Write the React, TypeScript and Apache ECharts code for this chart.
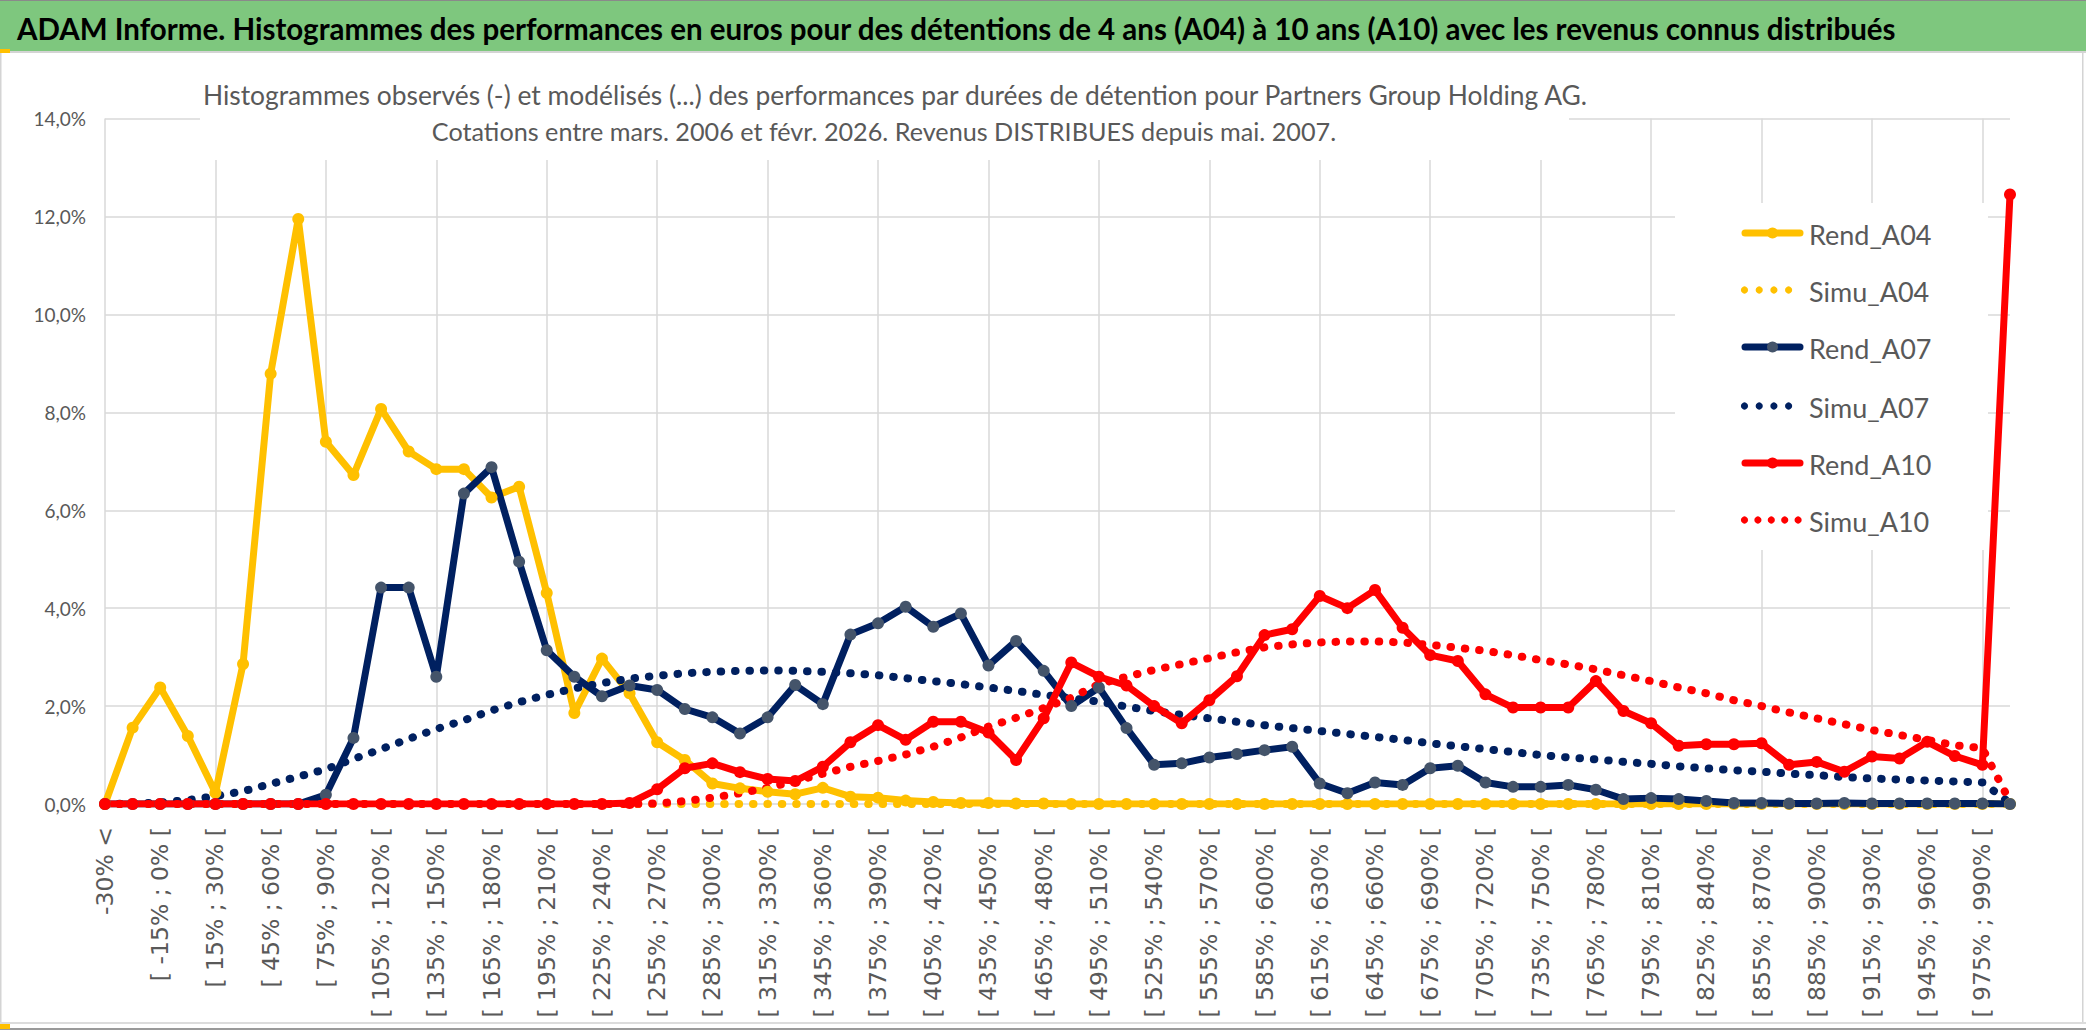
import React, { useEffect, useRef } from "react";
import * as echarts from "echarts";

const categories = [
  "-30% <", "[ -30% ; -15% [", "[ -15% ; 0% [", "[ 0% ; 15% [", "[ 15% ; 30% [", "[ 30% ; 45% [", "[ 45% ; 60% [", "[ 60% ; 75% [",
  "[ 75% ; 90% [", "[ 90% ; 105% [", "[ 105% ; 120% [", "[ 120% ; 135% [", "[ 135% ; 150% [", "[ 150% ; 165% [", "[ 165% ; 180% [",
  "[ 180% ; 195% [", "[ 195% ; 210% [", "[ 210% ; 225% [", "[ 225% ; 240% [", "[ 240% ; 255% [", "[ 255% ; 270% [", "[ 270% ; 285% [",
  "[ 285% ; 300% [", "[ 300% ; 315% [", "[ 315% ; 330% [", "[ 330% ; 345% [", "[ 345% ; 360% [", "[ 360% ; 375% [", "[ 375% ; 390% [",
  "[ 390% ; 405% [", "[ 405% ; 420% [", "[ 420% ; 435% [", "[ 435% ; 450% [", "[ 450% ; 465% [", "[ 465% ; 480% [", "[ 480% ; 495% [",
  "[ 495% ; 510% [", "[ 510% ; 525% [", "[ 525% ; 540% [", "[ 540% ; 555% [", "[ 555% ; 570% [", "[ 570% ; 585% [", "[ 585% ; 600% [",
  "[ 600% ; 615% [", "[ 615% ; 630% [", "[ 630% ; 645% [", "[ 645% ; 660% [", "[ 660% ; 675% [", "[ 675% ; 690% [", "[ 690% ; 705% [",
  "[ 705% ; 720% [", "[ 720% ; 735% [", "[ 735% ; 750% [", "[ 750% ; 765% [", "[ 765% ; 780% [", "[ 780% ; 795% [", "[ 795% ; 810% [",
  "[ 810% ; 825% [", "[ 825% ; 840% [", "[ 840% ; 855% [", "[ 855% ; 870% [", "[ 870% ; 885% [", "[ 885% ; 900% [", "[ 900% ; 915% [",
  "[ 915% ; 930% [", "[ 930% ; 945% [", "[ 945% ; 960% [", "[ 960% ; 975% [", "[ 975% ; 990% [", "990% <=",
];

const rendA04 = [
  0, 1.56, 2.38, 1.39, 0.23, 2.86, 8.79, 11.95, 7.4, 6.72, 8.07, 7.2, 6.84, 6.84, 6.26, 6.48, 4.31, 1.86, 2.97, 2.26,
  1.26, 0.9, 0.42, 0.32, 0.25, 0.2, 0.33, 0.15, 0.13, 0.07, 0.04, 0.02, 0.02, 0.01, 0.01, 0, 0, 0, 0, 0,
  0, 0, 0, 0, 0, 0, 0, 0, 0, 0, 0, 0, 0, 0, 0, 0, 0, 0, 0, 0,
  0, 0, 0, 0, 0, 0, 0, 0, 0, 0,
];

const simuA04 = [
  0, 0, 0, 0, 0, 0, 0, 0, 0, 0, 0, 0, 0, 0, 0, 0, 0, 0, 0, 0,
  0, 0, 0, 0, 0, 0, 0, 0, 0, 0, 0, 0, 0, 0, 0, 0, 0, 0, 0, 0,
  0, 0, 0, 0, 0, 0, 0, 0, 0, 0, 0, 0, 0, 0, 0, 0, 0, 0, 0, 0,
  0, 0, 0, 0, 0, 0, 0, 0, 0, 0,
];

const rendA07 = [
  0, 0, 0, 0, 0, 0, 0, 0, 0.19, 1.35, 4.42, 4.42, 2.6, 6.34, 6.88, 4.95, 3.14, 2.6, 2.2, 2.42,
  2.33, 1.94, 1.77, 1.44, 1.77, 2.43, 2.04, 3.46, 3.69, 4.03, 3.62, 3.89, 2.83, 3.33, 2.72, 2.0, 2.38, 1.55, 0.8, 0.83,
  0.95, 1.02, 1.1, 1.17, 0.42, 0.22, 0.44, 0.39, 0.73, 0.78, 0.44, 0.35, 0.35, 0.39, 0.29, 0.1, 0.12, 0.1, 0.06, 0.02,
  0.02, 0.01, 0.01, 0.02, 0.01, 0.01, 0.01, 0.01, 0.01, 0,
];

const simuA07 = [
  0, 0.01, 0.03, 0.08, 0.16, 0.26, 0.41, 0.56, 0.71, 0.92, 1.12, 1.33, 1.53, 1.71, 1.91, 2.08, 2.23, 2.36, 2.47, 2.56,
  2.62, 2.67, 2.7, 2.72, 2.73, 2.72, 2.7, 2.67, 2.63, 2.57, 2.51, 2.45, 2.38, 2.31, 2.23, 2.16, 2.09, 1.99, 1.9, 1.82,
  1.75, 1.68, 1.61, 1.55, 1.49, 1.43, 1.37, 1.31, 1.24, 1.18, 1.12, 1.06, 1.0, 0.95, 0.91, 0.86, 0.82, 0.77, 0.73, 0.69,
  0.66, 0.62, 0.59, 0.55, 0.52, 0.5, 0.48, 0.46, 0.44, 0.02,
];

const rendA10 = [
  0, 0, 0, 0, 0, 0, 0, 0, 0, 0, 0, 0, 0, 0, 0, 0, 0, 0, 0, 0.02,
  0.3, 0.73, 0.83, 0.65, 0.51, 0.47, 0.76, 1.26, 1.61, 1.31, 1.68, 1.68, 1.46, 0.9, 1.75, 2.89, 2.6, 2.42, 2.0, 1.65,
  2.12, 2.61, 3.45, 3.57, 4.25, 4.0, 4.37, 3.6, 3.04, 2.92, 2.24, 1.97, 1.97, 1.97, 2.51, 1.9, 1.65, 1.19, 1.22, 1.22,
  1.24, 0.8, 0.86, 0.66, 0.97, 0.93, 1.27, 0.98, 0.8, 12.45,
];

const simuA10 = [
  0, 0, 0, 0, 0, 0, 0, 0, 0, 0, 0, 0, 0, 0, 0, 0, 0, 0, 0, 0,
  0.01, 0.06, 0.13, 0.22, 0.33, 0.47, 0.62, 0.76, 0.88, 1.01, 1.17, 1.36, 1.58, 1.76, 1.96, 2.17, 2.45, 2.6, 2.74, 2.86,
  2.98, 3.1, 3.2, 3.26, 3.3, 3.32, 3.32, 3.3, 3.25, 3.19, 3.13, 3.04, 2.94, 2.85, 2.75, 2.63, 2.51, 2.38, 2.26, 2.12,
  2.0, 1.87, 1.75, 1.63, 1.51, 1.41, 1.31, 1.2, 1.14, 0.05,
];

const seriesNames = ["Rend_A04", "Simu_A04", "Rend_A07", "Simu_A07", "Rend_A10", "Simu_A10"];

const headerTitle =
  "ADAM Informe. Histogrammes des performances en euros pour des détentions de 4 ans (A04) à 10 ans (A10) avec les revenus connus distribués";
const subTitle1 =
  "Histogrammes observés (-) et modélisés (...) des performances par durées de détention pour Partners Group Holding AG.";
const subTitle2 = "Cotations entre mars. 2006 et févr. 2026. Revenus DISTRIBUES depuis mai. 2007.";

const YELLOW = "#FFC000";
const NAVY = "#002060";
const NAVY_MARK = "#44546A";
const RED = "#FF0000";
const TXT = "#595959";
const GRID = "#D9D9D9";
const FONT = "Lato";

function rend(name: string, data: number[], line: string, mark: string) {
  return {
    name,
    type: "line",
    data,
    symbol: "circle",
    symbolSize: 12,
    showSymbol: true,
    lineStyle: { color: line, width: 7, cap: "round", join: "round" },
    itemStyle: { color: mark, borderWidth: 0 },
    emphasis: { disabled: true },
  };
}

function simu(name: string, data: number[], color: string) {
  return {
    name,
    type: "line",
    data,
    symbol: "none",
    showSymbol: false,
    lineStyle: { color, width: 8, type: [0.5, 13.9], cap: "round" },
    itemStyle: { color },
    emphasis: { disabled: true },
  };
}

function legendItems() {
  const items: any[] = [];
  const ys = [233, 290, 347, 406, 463, 520];
  const cols = [
    [YELLOW, YELLOW],
    [YELLOW, YELLOW],
    [NAVY, NAVY_MARK],
    [NAVY, NAVY],
    [RED, RED],
    [RED, RED],
  ];
  seriesNames.forEach((name, i) => {
    const y = ys[i];
    const [c, m] = cols[i];
    if (i % 2 === 0) {
      items.push({
        type: "line",
        z: 61,
        shape: { x1: 1745, y1: y, x2: 1800, y2: y },
        style: { stroke: c, lineWidth: 7, lineCap: "round" },
      });
      items.push({ type: "circle", z: 62, shape: { cx: 1772.5, cy: y, r: 5.5 }, style: { fill: m } });
    } else {
      const n = i === 5 ? 5 : 4;
      const step = i === 5 ? 13.4 : 14.7;
      for (let k = 0; k < n; k++) {
        items.push({ type: "circle", z: 61, shape: { cx: 1744.5 + k * step, cy: y, r: 3.6 }, style: { fill: c } });
      }
    }
    items.push({
      type: "text",
      z: 62,
      x: 1809,
      y: y + 1,
      style: {
        text: name,
        fontFamily: FONT,
        fontSize: 27,
        fill: TXT,
        textAlign: "left",
        textVerticalAlign: "middle",
      },
    });
  });
  return items;
}

export default function App() {
  const ref = useRef<HTMLDivElement>(null);
  useEffect(() => {
    document.body.style.margin = "0";
    const chart = echarts.init(ref.current!, undefined, { renderer: "svg" });
    chart.setOption({
      animation: false,
      backgroundColor: "#ffffff",
      grid: { left: 105, right: 76, top: 118.6, bottom: 227, containLabel: false },
      xAxis: {
        type: "category",
        data: categories,
        boundaryGap: false,
        axisLine: { show: false },
        axisTick: { show: false },
        axisLabel: {
          interval: 1,
          rotate: 90,
          margin: 23,
          fontFamily: "DejaVu Sans",
          fontSize: 23.5,
          color: TXT,
        },
        splitLine: {
          show: true,
          interval: (i: number) => i % 4 === 0,
          lineStyle: { color: GRID, width: 1.5 },
        },
      },
      yAxis: {
        type: "value",
        min: 0,
        max: 14,
        interval: 2,
        axisLine: { show: false },
        axisTick: { show: false },
        axisLabel: {
          margin: 19,
          fontFamily: FONT,
          fontSize: 19,
          color: TXT,
          formatter: (v: number) => v.toFixed(1).replace(".", ",") + "%",
        },
        splitLine: { lineStyle: { color: GRID, width: 1.5 } },
      },
      graphic: [
        { type: "rect", z: 100, shape: { x: 0, y: 0, width: 2086, height: 51 }, style: { fill: "#7ec77e" } },
        { type: "rect", z: 101, shape: { x: 0, y: 0, width: 2086, height: 1 }, style: { fill: "#8a8a8a" } },
        { type: "rect", z: 101, shape: { x: 0, y: 51, width: 2086, height: 2 }, style: { fill: "#d4d4d4" } },
        { type: "rect", z: 101, shape: { x: 0, y: 53, width: 1.5, height: 970 }, style: { fill: "#d4d4d4" } },
        { type: "rect", z: 101, shape: { x: 2082, y: 53, width: 1.5, height: 970 }, style: { fill: "#d4d4d4" } },
        { type: "rect", z: 101, shape: { x: 0, y: 1022, width: 2086, height: 2 }, style: { fill: "#dcdcdc" } },
        { type: "rect", z: 101, shape: { x: 0, y: 1028, width: 2086, height: 2 }, style: { fill: "#9a9a9a" } },
        { type: "rect", z: 102, shape: { x: 0, y: 49, width: 10, height: 4 }, style: { fill: YELLOW } },
        { type: "rect", z: 102, shape: { x: 0, y: 1024, width: 10, height: 5 }, style: { fill: YELLOW } },
        {
          type: "text",
          z: 103,
          x: 17,
          y: 28,
          style: {
            text: headerTitle,
            fontFamily: FONT,
            fontWeight: "bold",
            fontSize: 29.5,
            fill: "#000000",
            textAlign: "left",
            textVerticalAlign: "middle",
          },
        },
        { type: "rect", z: 50, shape: { x: 200, y: 62, width: 1369, height: 98 }, style: { fill: "#ffffff" } },
        {
          type: "text",
          z: 51,
          x: 895,
          y: 95,
          style: {
            text: subTitle1,
            fontFamily: FONT,
            fontSize: 26.4,
            fill: TXT,
            textAlign: "center",
            textVerticalAlign: "middle",
          },
        },
        {
          type: "text",
          z: 51,
          x: 884,
          y: 131,
          style: {
            text: subTitle2,
            fontFamily: FONT,
            fontSize: 25.2,
            fill: TXT,
            textAlign: "center",
            textVerticalAlign: "middle",
          },
        },
        { type: "rect", z: 60, shape: { x: 1675, y: 203, width: 313, height: 347 }, style: { fill: "#ffffff" } },
        ...legendItems(),
      ],
      series: [
        rend(seriesNames[0], rendA04, YELLOW, YELLOW),
        simu(seriesNames[1], simuA04, YELLOW),
        rend(seriesNames[2], rendA07, NAVY, NAVY_MARK),
        simu(seriesNames[3], simuA07, NAVY),
        rend(seriesNames[4], rendA10, RED, RED),
        simu(seriesNames[5], simuA10, RED),
      ],
    });
    return () => chart.dispose();
  }, []);
  return <div ref={ref} style={{ width: 2086, height: 1031 }} />;
}
